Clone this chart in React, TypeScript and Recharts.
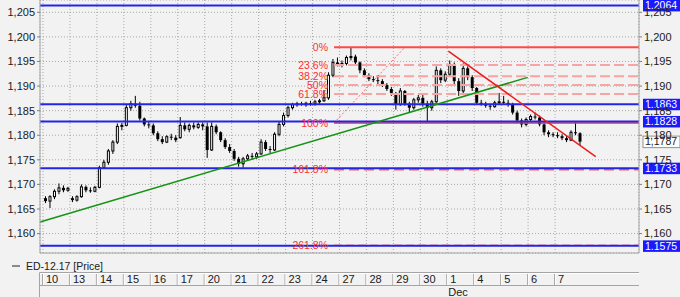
import React from 'react';
import { ComposedChart, Bar, XAxis, YAxis, CartesianGrid, ReferenceLine } from 'recharts';

// ---------- data ----------
const dayLabels = ['10', '13', '14', '15', '16', '17', '20', '21', '22', '23', '24', '27', '28', '29', '30', '1', '4', '5', '6', '7'];
const monthLabels: Record<number, string> = { 15: 'Dec' };
const dayTicks = dayLabels.map((_, i) => i);
const priceTicks = [1.16, 1.165, 1.17, 1.175, 1.18, 1.185, 1.19, 1.195, 1.2, 1.205];
const BARS_PER_DAY = 6;

const opens = [
  1.1672, 1.1666, 1.1675, 1.1686, 1.1693, 1.1688,
  1.1672, 1.1668, 1.1675, 1.1695, 1.1688, 1.1686,
  1.1694, 1.1734, 1.1745, 1.1768, 1.1786, 1.1818,
  1.1820, 1.1856, 1.1864, 1.1860, 1.1834, 1.1822,
  1.1820, 1.1804, 1.1792, 1.1786, 1.1797, 1.1795,
  1.1795, 1.1820, 1.1812, 1.1820, 1.1816, 1.1822,
  1.1818, 1.1770, 1.1818, 1.1806, 1.1790, 1.1776,
  1.1768, 1.1752, 1.1742, 1.1752, 1.1758, 1.1756,
  1.1762, 1.1786, 1.1772, 1.1770, 1.1802, 1.1822,
  1.1840, 1.1856, 1.1862, 1.1864, 1.1862, 1.1865,
  1.1864, 1.1868, 1.1870, 1.1876, 1.1922, 1.1948,
  1.1944, 1.1946, 1.1958, 1.1960, 1.1948, 1.1932,
  1.1922, 1.1914, 1.1912, 1.1910, 1.1902, 1.1894,
  1.1886, 1.1862, 1.1890, 1.1864, 1.1856, 1.1872,
  1.1876, 1.1864, 1.1856, 1.1868, 1.1932, 1.1912,
  1.1924, 1.1944, 1.1910, 1.1890, 1.1936, 1.1918,
  1.1896, 1.1866, 1.1864, 1.1860, 1.1858, 1.1866,
  1.1868, 1.1866, 1.1862, 1.1846, 1.1830, 1.1822,
  1.1832, 1.1838, 1.1836, 1.1822, 1.1806, 1.1802,
  1.1800, 1.1798, 1.1794, 1.1790, 1.1806, 1.1804,
];
const highs = [
  1.1676, 1.1678, 1.1690, 1.1702, 1.1698, 1.1695,
  1.1676, 1.1678, 1.1700, 1.1698, 1.1694, 1.1697,
  1.1738, 1.1750, 1.1772, 1.1790, 1.1824, 1.1825,
  1.1862, 1.1870, 1.1880, 1.1868, 1.1836, 1.1828,
  1.1824, 1.1808, 1.1798, 1.1800, 1.1803, 1.1800,
  1.1837, 1.1826, 1.1824, 1.1826, 1.1826, 1.1826,
  1.1826, 1.1826, 1.1822, 1.1808, 1.1794, 1.1782,
  1.1772, 1.1756, 1.1756, 1.1762, 1.1764, 1.1766,
  1.1792, 1.1790, 1.1778, 1.1806, 1.1828, 1.1846,
  1.1860, 1.1866, 1.1868, 1.1868, 1.1868, 1.1870,
  1.1872, 1.1874, 1.1892, 1.1928, 1.1955, 1.1958,
  1.1952, 1.1962, 1.1979, 1.1964, 1.1950, 1.1936,
  1.1926, 1.1920, 1.1922, 1.1914, 1.1906, 1.1898,
  1.1888, 1.1896, 1.1892, 1.1868, 1.1876, 1.1882,
  1.1882, 1.1870, 1.1872, 1.1940, 1.1936, 1.1930,
  1.1952, 1.1948, 1.1916, 1.1946, 1.1940, 1.1922,
  1.1898, 1.1872, 1.1868, 1.1864, 1.1870, 1.1886,
  1.1880, 1.1872, 1.1866, 1.1850, 1.1834, 1.1836,
  1.1842, 1.1846, 1.1840, 1.1826, 1.1810, 1.1806,
  1.1806, 1.1802, 1.1800, 1.1810, 1.1826, 1.1806,
];
const lows = [
  1.1662, 1.1652, 1.1670, 1.1680, 1.1684, 1.1685,
  1.1664, 1.1665, 1.1673, 1.1684, 1.1683, 1.1684,
  1.1692, 1.1732, 1.1740, 1.1762, 1.1782, 1.1810,
  1.1818, 1.1850, 1.1856, 1.1830, 1.1818, 1.1814,
  1.1800, 1.1788, 1.1782, 1.1784, 1.1790, 1.1786,
  1.1793, 1.1808, 1.1806, 1.1812, 1.1813, 1.1810,
  1.1754, 1.1768, 1.1802, 1.1786, 1.1772, 1.1764,
  1.1748, 1.1736, 1.1734, 1.1748, 1.1750, 1.1752,
  1.1760, 1.1768, 1.1764, 1.1768, 1.1798, 1.1818,
  1.1836, 1.1852, 1.1858, 1.1860, 1.1858, 1.1860,
  1.1860, 1.1864, 1.1868, 1.1872, 1.1918, 1.1940,
  1.1938, 1.1942, 1.1952, 1.1944, 1.1926, 1.1918,
  1.1910, 1.1908, 1.1904, 1.1898, 1.1890, 1.1880,
  1.1852, 1.1860, 1.1860, 1.1846, 1.1852, 1.1866,
  1.1858, 1.1826, 1.1850, 1.1866, 1.1906, 1.1908,
  1.1920, 1.1904, 1.1880, 1.1886, 1.1912, 1.1890,
  1.1862, 1.1860, 1.1856, 1.1852, 1.1856, 1.1862,
  1.1862, 1.1858, 1.1842, 1.1826, 1.1816, 1.1818,
  1.1828, 1.1832, 1.1818, 1.1800, 1.1796, 1.1796,
  1.1794, 1.1790, 1.1786, 1.1788, 1.1800, 1.1780,
];
const closes = [
  1.1666, 1.1675, 1.1686, 1.1693, 1.1688, 1.1692,
  1.1668, 1.1675, 1.1695, 1.1688, 1.1686, 1.1694,
  1.1734, 1.1745, 1.1768, 1.1786, 1.1818, 1.1820,
  1.1856, 1.1864, 1.1860, 1.1834, 1.1822, 1.1820,
  1.1804, 1.1792, 1.1786, 1.1797, 1.1795, 1.1790,
  1.1820, 1.1812, 1.1820, 1.1816, 1.1822, 1.1818,
  1.1770, 1.1818, 1.1806, 1.1790, 1.1776, 1.1768,
  1.1752, 1.1742, 1.1752, 1.1758, 1.1756, 1.1762,
  1.1786, 1.1772, 1.1770, 1.1802, 1.1822, 1.1840,
  1.1856, 1.1862, 1.1864, 1.1862, 1.1865, 1.1864,
  1.1868, 1.1870, 1.1876, 1.1922, 1.1948, 1.1944,
  1.1946, 1.1958, 1.1960, 1.1948, 1.1932, 1.1922,
  1.1914, 1.1912, 1.1910, 1.1902, 1.1894, 1.1886,
  1.1862, 1.1890, 1.1864, 1.1856, 1.1872, 1.1876,
  1.1864, 1.1856, 1.1868, 1.1932, 1.1912, 1.1924,
  1.1944, 1.1910, 1.1890, 1.1936, 1.1918, 1.1896,
  1.1866, 1.1864, 1.1860, 1.1858, 1.1866, 1.1868,
  1.1866, 1.1862, 1.1846, 1.1830, 1.1822, 1.1832,
  1.1838, 1.1836, 1.1822, 1.1806, 1.1802, 1.1800,
  1.1798, 1.1794, 1.1790, 1.1806, 1.1804, 1.1787,
];

const levelLines = [1.2064, 1.1863, 1.1828, 1.1733, 1.1575];
const levelTags = ['1.2064', '1.1863', '1.1828', '1.1733', '1.1575'];
const lastPrice = 1.1787;
const lastPriceTag = '1,1787';

const fibHigh = 1.1979;
const fibLow = 1.1825;
const fibStartDay = 10.8;
const fibAnchorEndDay = 13.43;
const fibRatios = [0, 0.236, 0.382, 0.5, 0.618, 1, 1.618, 2.618];
const fibLabels = ['0%', '23.6%', '38.2%', '50%', '61.8%', '100%', '161.8%', '261.8%'];

const greenTrend = [{ x: -0.111, y: 1.16236 }, { x: 17.985, y: 1.19176 }];
const redTrend = [{ x: 15.04, y: 1.19712 }, { x: 20.508, y: 1.17563 }];

const X_DOMAIN: [number, number] = [-0.111, 22.115];
const Y_DOMAIN: [number, number] = [1.15605, 1.2075];

const candles = opens.map((o, i) => ({
  t: Math.floor(i / BARS_PER_DAY) + ((i % BARS_PER_DAY) + 0.5) / BARS_PER_DAY,
  o,
  h: highs[i],
  l: lows[i],
  c: closes[i],
}));

// ---------- styles ----------
const BG = '#f2f2f2';
const BORDER = '#a4a4a4';
const BLUE = '#2424e8';
const FONT = '"Liberation Sans", Arial, sans-serif';

const fibStyle = (i: number) => {
  if (i === 0) return { stroke: '#ff4848', strokeWidth: 2 };
  if (i === 5) return { stroke: '#f03030', strokeWidth: 1.5 };
  if (i === 6) return { stroke: '#ff5a5a', strokeWidth: 1.5, strokeDasharray: '10 5' };
  if (i === 7) return { stroke: '#ff3030', strokeWidth: 1.2, strokeDasharray: '8 4' };
  return { stroke: '#f6a4a4', strokeWidth: 2, strokeDasharray: '10 4' };
};

const Candle = (props: any) => {
  const { x, y, width, height, payload } = props;
  if (x == null || y == null || !payload) return null;
  const { o, h, l, c } = payload;
  const cx = x + width / 2;
  const yTop = Math.min(y, y + height);
  const hpx = Math.abs(height);
  const span = h - l || 1e-9;
  const py = (v: number) => yTop + ((h - v) / span) * hpx;
  const bTop = py(Math.max(o, c));
  const bBot = py(Math.min(o, c));
  const bh = Math.max(1, bBot - bTop);
  const up = c >= o;
  return (
    <g>
      <line x1={cx} x2={cx} y1={yTop} y2={yTop + hpx} stroke="#000" strokeWidth={1} />
      {up ? (
        <rect x={cx - 1} y={bTop} width={2} height={bh} fill="#fff" stroke="#000" strokeWidth={1} />
      ) : (
        <rect x={cx - 1.5} y={bTop} width={3} height={bh} fill="#000" />
      )}
    </g>
  );
};

const DayTick = (props: any) => {
  const { x, y, payload } = props;
  const i = payload.value as number;
  return (
    <g>
      <line x1={x - 0.5} x2={x - 0.5} y1={y + 20} y2={y + 33} stroke={BORDER} />
      <line x1={x + 0.5} x2={x + 0.5} y1={y + 20} y2={y + 33} stroke="#ffffff" />
      <text x={x + 3} y={y + 30} fontSize={11} fill="#202020" fontFamily={FONT}>
        {dayLabels[i]}
      </text>
      {monthLabels[i] ? (
        <text x={x + 1} y={y + 43} fontSize={11} fill="#202020" fontFamily={FONT}>
          {monthLabels[i]}
        </text>
      ) : null}
    </g>
  );
};

const Tag = (props: any) => {
  const { viewBox, text, fill, color, border } = props;
  if (!viewBox) return null;
  const x = viewBox.x + viewBox.width + 4;
  const y = viewBox.y;
  return (
    <g>
      <rect x={x} y={y - 5.5} width={37} height={11.5} fill={fill} stroke={border || 'none'} strokeWidth={1} />
      <text x={x + 2} y={y} dy="0.36em" fontSize={10.5} fill={color} fontFamily={FONT}>
        {text}
      </text>
    </g>
  );
};

const fmt = (v: number) => v.toFixed(3).replace('.', ',');

export default function App() {
  return (
    <div style={{ position: 'absolute', left: 0, top: 0, width: 680, height: 297, background: BG, fontFamily: FONT }}>
      <ComposedChart width={680} height={297} data={candles} margin={{ top: 0, right: 0, bottom: 0, left: 0 }}>
        <CartesianGrid stroke="#a8a8a8" strokeDasharray="1 2" />
        <XAxis
          dataKey="t"
          type="number"
          domain={X_DOMAIN}
          allowDataOverflow
          ticks={dayTicks}
          interval={0}
          height={44}
          tickSize={0}
          tickMargin={0}
          tickLine={false}
          axisLine={{ stroke: BORDER }}
          tick={<DayTick />}
        />
        <YAxis
          domain={Y_DOMAIN}
          allowDataOverflow
          ticks={priceTicks}
          width={40}
          tickSize={3}
          tickMargin={2}
          tickFormatter={fmt}
          tick={{ fontSize: 11, fill: '#202020' }}
          tickLine={{ stroke: '#808080' }}
          axisLine={{ stroke: BORDER }}
        />
        <YAxis
          yAxisId="right"
          orientation="right"
          domain={Y_DOMAIN}
          allowDataOverflow
          ticks={priceTicks}
          width={41}
          tickSize={3}
          tickMargin={2}
          tickFormatter={fmt}
          tick={{ fontSize: 11, fill: '#202020' }}
          tickLine={{ stroke: '#808080' }}
          axisLine={{ stroke: BORDER }}
        />

        {fibRatios.map((r, i) => {
          const v = fibHigh - r * (fibHigh - fibLow);
          return (
            <ReferenceLine
              key={'fib' + i}
              segment={[{ x: fibStartDay, y: v }, { x: X_DOMAIN[1], y: v }]}
              ifOverflow="visible"
              {...fibStyle(i)}
              label={{ value: fibLabels[i], position: 'left', offset: 6, fill: '#ff2e2e', fontSize: 10.5 }}
            />
          );
        })}
        <ReferenceLine
          segment={[{ x: fibStartDay, y: fibLow }, { x: fibAnchorEndDay, y: fibHigh }]}
          ifOverflow="visible"
          stroke="#ff4040"
          strokeWidth={0.8}
          strokeDasharray="2 2"
        />

        {levelLines.map((v, i) => (
          <ReferenceLine
            key={'lvl' + i}
            y={v}
            stroke={BLUE}
            strokeWidth={2}
            label={(p: any) => <Tag {...p} text={levelTags[i]} fill="#1a1aff" color="#ffffff" />}
          />
        ))}

        <ReferenceLine segment={greenTrend} ifOverflow="visible" stroke="#149414" strokeWidth={1.5} />
        <ReferenceLine segment={redTrend} ifOverflow="visible" stroke="#f01c1c" strokeWidth={1.5} />

        <Bar
          dataKey={(d: any) => [d.l, d.h]}
          barSize={3}
          shape={<Candle />}
          isAnimationActive={false}
        />

        <ReferenceLine
          y={lastPrice}
          stroke="none"
          label={(p: any) => <Tag {...p} text={lastPriceTag} fill="#ffffff" color="#202020" border="#909090" />}
        />
      </ComposedChart>
      <svg
        width={680}
        height={297}
        style={{ position: 'absolute', left: 0, top: 0, pointerEvents: 'none' }}
      >
        <line x1={12} x2={20} y1={266} y2={266} stroke="#8a8a8a" strokeWidth={2} />
        <text x={26} y={270} fontSize={10.5} fill="#202020" fontFamily={FONT}>
          ED-12.17 [Price]
        </text>
        <line x1={39.5} x2={639} y1={272.5} y2={272.5} stroke={BORDER} />
        <line x1={39.5} x2={639} y1={273.5} y2={273.5} stroke="#ffffff" />
        <line x1={39.5} x2={639} y1={285.5} y2={285.5} stroke={BORDER} />
        <line x1={39.5} x2={39.5} y1={272.5} y2={297} stroke={BORDER} />
      </svg>
    </div>
  );
}
